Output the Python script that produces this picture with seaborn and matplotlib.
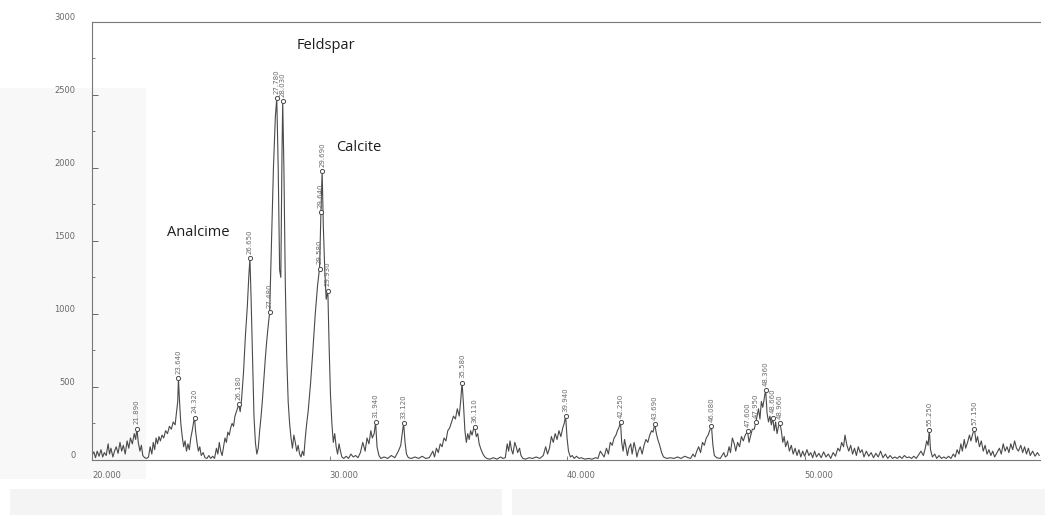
import matplotlib
matplotlib.use("Agg")
import matplotlib.pyplot as plt
import matplotlib.transforms as mtransforms
from matplotlib.patches import Rectangle
from matplotlib.ticker import MultipleLocator, FixedLocator, FuncFormatter
import pandas as pd
import seaborn as sns

# Diffraction trace: 2-theta (degrees) and intensity (counts)
two_theta = [
    20.00, 20.08, 20.15, 20.22, 20.30, 20.38, 20.45, 20.52, 20.60, 20.68, 20.74, 20.80, 20.88, 20.95,
    21.02, 21.10, 21.18, 21.25, 21.32, 21.40, 21.48, 21.55, 21.62, 21.70, 21.78, 21.84, 21.89, 21.95,
    22.02, 22.08, 22.14, 22.22, 22.30, 22.38, 22.45, 22.52, 22.58, 22.64, 22.70, 22.76, 22.82, 22.88,
    22.95, 23.02, 23.10, 23.18, 23.26, 23.34, 23.42, 23.50, 23.56, 23.61, 23.64, 23.68, 23.74, 23.80,
    23.86, 23.92, 23.98, 24.04, 24.10, 24.16, 24.22, 24.28, 24.32, 24.36, 24.42, 24.48, 24.54, 24.60,
    24.68, 24.76, 24.84, 24.92, 25.00, 25.08, 25.16, 25.24, 25.30, 25.36, 25.42, 25.48, 25.54, 25.60,
    25.66, 25.72, 25.78, 25.84, 25.90, 25.96, 26.02, 26.08, 26.14, 26.18, 26.24, 26.30, 26.38, 26.46,
    26.54, 26.60, 26.65, 26.70, 26.76, 26.82, 26.88, 26.94, 27.00, 27.06, 27.12, 27.18, 27.24, 27.30,
    27.36, 27.42, 27.48, 27.56, 27.64, 27.72, 27.78, 27.84, 27.90, 27.95, 28.00, 28.03, 28.08, 28.14,
    28.20, 28.26, 28.32, 28.38, 28.44, 28.50, 28.56, 28.62, 28.68, 28.74, 28.80, 28.86, 28.92, 28.98,
    29.04, 29.10, 29.20, 29.30, 29.40, 29.50, 29.58, 29.64, 29.69, 29.74, 29.80, 29.86, 29.93, 29.98,
    30.04, 30.10, 30.16, 30.22, 30.28, 30.34, 30.40, 30.46, 30.52, 30.60, 30.70, 30.80, 30.90, 31.00,
    31.10, 31.20, 31.30, 31.40, 31.50, 31.58, 31.66, 31.74, 31.80, 31.88, 31.94, 32.00, 32.08, 32.16,
    32.30, 32.45, 32.60, 32.75, 32.90, 33.00, 33.06, 33.12, 33.18, 33.24, 33.32, 33.45, 33.60, 33.75,
    33.90, 34.05, 34.20, 34.35, 34.42, 34.50, 34.58, 34.66, 34.74, 34.82, 34.90, 34.98, 35.06, 35.14,
    35.22, 35.30, 35.38, 35.46, 35.52, 35.58, 35.64, 35.70, 35.76, 35.82, 35.88, 35.94, 36.00, 36.06,
    36.11, 36.18, 36.24, 36.30, 36.38, 36.46, 36.54, 36.62, 36.75, 36.90, 37.05, 37.20, 37.30, 37.40,
    37.48, 37.54, 37.60, 37.66, 37.72, 37.80, 37.86, 37.92, 38.00, 38.06, 38.14, 38.25, 38.40, 38.55,
    38.70, 38.85, 39.00, 39.10, 39.18, 39.26, 39.34, 39.42, 39.50, 39.58, 39.66, 39.74, 39.82, 39.88,
    39.94, 40.00, 40.06, 40.14, 40.22, 40.30, 40.40, 40.50, 40.60, 40.75, 40.90, 41.05, 41.20, 41.30,
    41.40, 41.48, 41.56, 41.66, 41.74, 41.82, 41.90, 41.98, 42.06, 42.12, 42.18, 42.25, 42.30, 42.36,
    42.42, 42.48, 42.54, 42.60, 42.68, 42.74, 42.82, 42.88, 42.94, 43.00, 43.08, 43.16, 43.24, 43.32,
    43.40, 43.48, 43.56, 43.62, 43.69, 43.76, 43.82, 43.90, 43.98, 44.06, 44.20, 44.35, 44.50, 44.65,
    44.80, 44.95, 45.10, 45.20, 45.30, 45.38, 45.46, 45.54, 45.62, 45.70, 45.78, 45.86, 45.94, 46.00,
    46.08, 46.14, 46.20, 46.30, 46.45, 46.60, 46.66, 46.74, 46.82, 46.88, 46.96, 47.04, 47.10, 47.18,
    47.26, 47.34, 47.42, 47.50, 47.60, 47.66, 47.72, 47.80, 47.88, 47.95, 48.00, 48.06, 48.12, 48.18,
    48.24, 48.30, 48.36, 48.42, 48.48, 48.54, 48.60, 48.66, 48.72, 48.78, 48.84, 48.90, 48.96, 49.02,
    49.08, 49.14, 49.20, 49.28, 49.36, 49.44, 49.52, 49.60, 49.68, 49.76, 49.84, 49.92, 50.00, 50.10,
    50.18, 50.26, 50.34, 50.42, 50.50, 50.60, 50.70, 50.80, 50.90, 51.00, 51.10, 51.20, 51.30, 51.40,
    51.48, 51.56, 51.64, 51.70, 51.78, 51.86, 51.94, 52.02, 52.10, 52.18, 52.26, 52.34, 52.42, 52.50,
    52.60, 52.70, 52.80, 52.90, 53.00, 53.10, 53.20, 53.30, 53.40, 53.50, 53.60, 53.70, 53.80, 53.90,
    54.00, 54.10, 54.20, 54.30, 54.40, 54.50, 54.60, 54.70, 54.80, 54.90, 55.00, 55.08, 55.14, 55.20,
    55.25, 55.30, 55.38, 55.48, 55.56, 55.66, 55.76, 55.86, 55.96, 56.06, 56.16, 56.26, 56.34, 56.42,
    56.50, 56.58, 56.64, 56.72, 56.78, 56.86, 56.94, 57.00, 57.08, 57.15, 57.22, 57.28, 57.36, 57.44,
    57.52, 57.60, 57.68, 57.76, 57.84, 57.92, 58.00, 58.10, 58.20, 58.28, 58.36, 58.44, 58.52, 58.60,
    58.68, 58.76, 58.84, 58.92, 59.00, 59.10, 59.18, 59.26, 59.34, 59.42, 59.50, 59.60, 59.70, 59.80,
    59.88,
]
counts = [
    30, 55, 15, 60, 25, 70, 20, 50, 30, 110, 40, 80, 20, 60,
    90, 45, 120, 60, 100, 40, 130, 80, 150, 110, 180, 140, 215, 120,
    60, 100, 30, 15, 10, 20, 90, 40, 120, 70, 150, 110, 160, 130,
    170, 150, 200, 180, 230, 210, 260, 240, 330, 400, 560, 420, 250, 160,
    90, 130, 60, 110, 70, 150, 200, 260, 290, 200, 120, 60, 90, 30,
    50, 15, 10, 30, 10, 25, 10, 80, 40, 120, 60, 30, 90, 150,
    120, 190, 170, 220, 250, 230, 300, 330, 360, 380, 330, 420, 600, 850,
    1050, 1250, 1380, 1100, 700, 300, 120, 40, 80, 200, 300, 420, 560, 700,
    820, 920, 1010, 1500, 2000, 2350, 2480, 2000, 1300, 1250, 2100, 2460, 2000, 1200,
    700, 400, 250, 150, 80, 170, 120, 60, 100, 40, 20, 60, 30, 150,
    250, 330, 520, 750, 1000, 1200, 1310, 1700, 1980, 1600, 1300, 1100, 1160, 800,
    450, 250, 120, 180, 90, 40, 110, 60, 20, 10, 25, 10, 40, 20,
    30, 15, 50, 120, 60, 150, 110, 200, 150, 180, 260, 90, 30, 10,
    20, 10, 30, 15, 60, 100, 180, 250, 120, 40, 15, 10, 20, 10,
    25, 10, 15, 60, 20, 80, 50, 110, 90, 150, 130, 200, 220, 260,
    300, 280, 350, 300, 400, 530, 380, 200, 120, 180, 140, 200, 170, 210,
    225, 160, 180, 110, 70, 40, 20, 10, 5, 15, 5, 20, 10, 15,
    110, 60, 130, 70, 40, 120, 90, 50, 80, 30, 10, 5, 15, 10,
    20, 10, 30, 90, 40, 80, 160, 120, 180, 140, 200, 160, 220, 250,
    300, 150, 60, 20, 30, 10, 25, 10, 15, 5, 10, 5, 15, 10,
    60, 40, 20, 80, 40, 120, 100, 150, 170, 200, 220, 260, 120, 60,
    140, 90, 30, 80, 110, 40, 120, 80, 20, 60, 90, 40, 100, 140,
    120, 170, 200, 190, 245, 180, 140, 100, 50, 20, 10, 15, 10, 20,
    10, 25, 15, 10, 40, 20, 60, 90, 50, 120, 100, 150, 170, 200,
    230, 100, 30, 15, 10, 50, 20, 30, 90, 50, 150, 110, 60, 120,
    90, 160, 130, 170, 195, 120, 160, 210, 210, 260, 300, 350, 280, 400,
    360, 420, 480, 320, 260, 300, 240, 290, 200, 260, 180, 230, 250, 200,
    120, 160, 90, 130, 60, 100, 40, 80, 30, 70, 20, 60, 25, 70,
    30, 50, 15, 60, 20, 45, 15, 55, 20, 40, 10, 50, 25, 80,
    60, 120, 90, 170, 100, 60, 100, 40, 80, 30, 90, 50, 70, 20,
    60, 25, 50, 15, 45, 20, 60, 15, 40, 10, 30, 10, 20, 10,
    25, 10, 30, 15, 20, 10, 25, 10, 35, 60, 30, 80, 130, 100,
    205, 70, 20, 40, 10, 30, 10, 20, 10, 25, 10, 40, 20, 70,
    40, 110, 60, 140, 80, 120, 170, 130, 180, 210, 120, 160, 90, 130,
    60, 100, 40, 70, 30, 60, 20, 50, 80, 40, 110, 60, 90, 50,
    110, 70, 130, 80, 60, 100, 50, 90, 40, 80, 30, 60, 25, 50,
    30,
]

# Indexed reflections (position in 2-theta and intensity at the marker)
peak_pos = [21.89, 23.64, 24.32, 26.18, 26.65, 27.48, 27.78, 28.03, 29.58, 29.64, 29.69,
            29.93, 31.94, 33.12, 35.58, 36.11, 39.94, 42.25, 43.69, 46.08, 47.60, 47.95,
            48.36, 48.66, 48.96, 55.25, 57.15]
peak_int = [215, 560, 290, 380, 1380, 1010, 2480, 2460, 1310, 1700, 1980,
            1160, 260, 250, 530, 225, 300, 260, 245, 230, 195, 260,
            480, 290, 250, 205, 210]

# Mineral phase names and where they sit (2-theta, counts)
phase_names = ["Analcime", "Feldspar", "Calcite"]
phase_x = [23.15, 28.62, 30.27]
phase_y = [1560, 2840, 2140]

x_ticks = [20, 30, 40, 50]
y_ticks = [0, 500, 1000, 1500, 2000, 2500, 3000]

trace = pd.DataFrame({"two_theta": two_theta, "counts": counts})
peaks = pd.DataFrame({"two_theta": peak_pos, "counts": peak_int})

sns.set_theme(style="white")
plt.rcParams["font.family"] = ["DejaVu Sans"]

fig = plt.figure(figsize=(10.45, 5.15), dpi=100)
fig.patch.set_facecolor("white")

# faint paper tones around the plot
fig.add_artist(Rectangle((0.01, 0.0), 0.47, 0.05, transform=fig.transFigure,
                         facecolor="#f4f4f4", edgecolor="none", zorder=0))
fig.add_artist(Rectangle((0.49, 0.0), 0.51, 0.05, transform=fig.transFigure,
                         facecolor="#f5f5f5", edgecolor="none", zorder=0))
fig.add_artist(Rectangle((0.0, 0.07), 0.14, 0.76, transform=fig.transFigure,
                         facecolor="#f8f8f8", edgecolor="none", zorder=0))

ax = fig.add_axes([0.088, 0.107, 0.907, 0.8505])
ax.set_facecolor("none")

sns.lineplot(data=trace, x="two_theta", y="counts", ax=ax, estimator=None, sort=False,
             color="#4a4a4a", linewidth=0.8)
sns.scatterplot(data=peaks, x="two_theta", y="counts", ax=ax, marker="o", s=9,
                facecolor="white", edgecolor="#4a4a4a", linewidth=0.7, zorder=3)

for xv, yv in zip(peak_pos, peak_int):
    ax.annotate(f"{xv:.3f}", xy=(xv, yv), xytext=(0, 3), textcoords="offset points",
                rotation=90, ha="center", va="bottom", fontsize=5.0, color="#6a6a6a")

for name, xv, yv in zip(phase_names, phase_x, phase_y):
    ax.text(xv, yv, name, ha="left", va="center", fontsize=10.5, color="#1e1e1e",
            family=["Open Sans", "DejaVu Sans"])

ax.set_xlim(20, 59.9)
ax.set_ylim(0, 3000)
ax.set_xlabel("")
ax.set_ylabel("")

ax.xaxis.set_major_locator(FixedLocator(x_ticks))
ax.xaxis.set_major_formatter(FuncFormatter(lambda v, p: f"{v:.3f}"))
ax.yaxis.set_major_locator(FixedLocator(y_ticks))
ax.yaxis.set_minor_locator(MultipleLocator(250))
ax.yaxis.set_major_formatter(FuncFormatter(lambda v, p: f"{int(v)}"))

ax.tick_params(axis="y", which="major", direction="in", length=4, width=0.7,
               color="#666666", labelsize=6, labelcolor="#6a6a6a", pad=12, left=True)
ax.tick_params(axis="y", which="minor", direction="in", length=2.5, width=0.6,
               color="#666666", left=True)
ax.tick_params(axis="x", which="major", direction="in", length=3, width=0.6,
               color="#666666", labelsize=6, labelcolor="#6a6a6a", pad=8, bottom=True)

shift_up = mtransforms.ScaledTranslation(0, 4 / 72, fig.dpi_scale_trans)
for lab in ax.get_yticklabels():
    lab.set_transform(lab.get_transform() + shift_up)
for lab in ax.get_xticklabels():
    lab.set_horizontalalignment("left")

for side in ["left", "top", "bottom"]:
    ax.spines[side].set_visible(True)
    ax.spines[side].set_color("#777777")
    ax.spines[side].set_linewidth(0.8)
ax.spines["right"].set_visible(False)

fig.savefig("out.png", dpi=100)
